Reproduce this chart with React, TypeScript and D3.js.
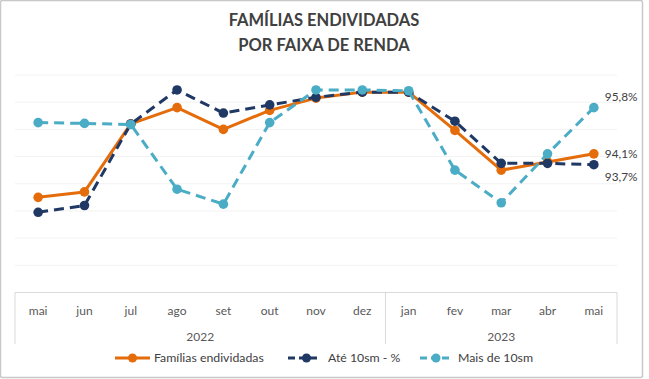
import React from "react";
import * as d3 from "d3";

const months = ["mai", "jun", "jul", "ago", "set", "out", "nov", "dez", "jan", "fev", "mar", "abr", "mai"];
const years = ["2022", "2023"];
const yearSpans = [8, 5];
const familias = [92.5, 92.7, 95.2, 95.8, 95.0, 95.7, 96.15, 96.37, 96.37, 94.96, 93.5, 93.8, 94.1];
const ate10 = [91.95, 92.2, 95.2, 96.45, 95.6, 95.9, 96.18, 96.37, 96.37, 95.3, 93.75, 93.75, 93.7];
const mais10 = [95.25, 95.22, 95.18, 92.8, 92.25, 95.25, 96.45, 96.45, 96.42, 93.5, 92.3, 94.1, 95.8];
const seriesNames = ["Famílias endividadas", "Até 10sm - %", "Mais de 10sm"];
const labels = ["94,1%", "93,7%", "95,8%"];
const yTicks = [89, 90, 91, 92, 93, 94, 95, 96, 97];

const W = 649;
const H = 379;
const font = "Lato, 'Open Sans', sans-serif";

export default function App() {
  const x = d3.scaleBand<number>().domain(d3.range(months.length)).range([15, 617]);
  const cx = (i: number) => (x(i) as number) + x.bandwidth() / 2;
  const y = d3.scaleLinear().domain([89, 97]).range([292.5, 75]);

  const series = [
    { name: seriesNames[0], data: familias, color: "#E46C0A", dash: "", label: labels[0], ldx: 11, ldy: 4 },
    { name: seriesNames[1], data: ate10, color: "#203864", dash: "10,6", label: labels[1], ldx: 11, ldy: 16 },
    { name: seriesNames[2], data: mais10, color: "#4BACC6", dash: "10,6", label: labels[2], ldx: 11, ldy: -7 },
  ];

  const line = d3
    .line<number>()
    .x((_, i) => cx(i))
    .y((d) => y(d));

  let acc = 0;
  const bounds = [15];
  yearSpans.forEach((s) => {
    acc += s;
    bounds.push(acc >= months.length ? 617 : (x(acc) as number));
  });

  const legendItems = [
    { x0: 115, x1: 150, mx: 132.5, tx: 154, s: series[0] },
    { x0: 288, x1: 321, mx: 306.5, tx: 328, s: series[1] },
    { x0: 420, x1: 452, mx: 436, tx: 458, s: series[2] },
  ];

  return (
    <svg width={W} height={H} style={{ position: "absolute", left: 0, top: 0, background: "#fff" }}>
      <rect x={0.5} y={0.5} width={642} height={377} fill="#fff" stroke="#c8c8c8" strokeWidth={1.5} rx={2} />
      <text x={324} y={26} textAnchor="middle" fontFamily={font} fontWeight={700} fontSize={16.5} fill="#404040">
        FAMÍLIAS ENDIVIDADAS
      </text>
      <text x={324} y={51} textAnchor="middle" fontFamily={font} fontWeight={700} fontSize={16.5} fill="#404040">
        POR FAIXA DE RENDA
      </text>
      {yTicks.slice(1).map((t) => (
        <line key={t} x1={15} x2={617} y1={y(t)} y2={y(t)} stroke="#f2f2f2" strokeWidth={1} />
      ))}
      <line x1={15} x2={617} y1={y(89)} y2={y(89)} stroke="#d9d9d9" strokeWidth={1} />
      {bounds.map((b, i) => (
        <line key={i} x1={b} x2={b} y1={y(89)} y2={344} stroke="#d9d9d9" strokeWidth={1} />
      ))}
      {months.map((m, i) => (
        <text key={i} x={cx(i)} y={315} textAnchor="middle" fontFamily={font} fontSize={12} fill="#595959">
          {m}
        </text>
      ))}
      {years.map((yr, i) => (
        <text key={yr} x={(bounds[i] + bounds[i + 1]) / 2} y={340.5} textAnchor="middle" fontFamily={font} fontSize={12} fill="#595959">
          {yr}
        </text>
      ))}
      {series.map((s) => (
        <g key={s.name}>
          <path d={line(s.data) || ""} fill="none" stroke={s.color} strokeWidth={3} strokeDasharray={s.dash} strokeLinejoin="round" />
          {s.data.map((v, i) => (
            <circle key={i} cx={cx(i)} cy={y(v)} r={4.8} fill={s.color} />
          ))}
        </g>
      ))}
      {series.map((s) => (
        <text
          key={s.label}
          x={cx(months.length - 1) + s.ldx}
          y={y(s.data[s.data.length - 1]) + s.ldy}
          fontFamily={font}
          fontSize={11.8}
          fill="#404040"
        >
          {s.label}
        </text>
      ))}
      {legendItems.map((l) => (
        <g key={l.s.name}>
          <line x1={l.x0} x2={l.x1} y1={358} y2={358} stroke={l.s.color} strokeWidth={3} strokeDasharray={l.s.dash ? "7,4" : ""} />
          <circle cx={l.mx} cy={358} r={4.5} fill={l.s.color} />
          <text x={l.tx} y={362} fontFamily={font} fontSize={12.3} fill="#404040">
            {l.s.name}
          </text>
        </g>
      ))}
    </svg>
  );
}
